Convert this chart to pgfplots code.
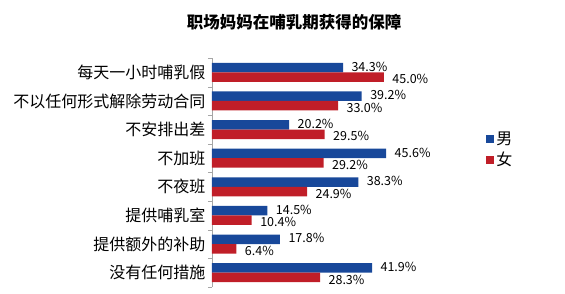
\documentclass[border=0pt]{standalone}
\usepackage{fontspec}
\setmainfont{Noto Sans CJK SC}
\usepackage{pgfplots}
\pgfplotsset{compat=1.18}
\definecolor{cblue}{RGB}{24,72,154}
\definecolor{cred}{RGB}{192,30,40}
\begin{document}
\begin{tikzpicture}[x=1pt,y=1pt]
\useasboundingbox (0,0) rectangle (565,294);
\node[font=\fontsize{16.5}{18}\selectfont\bfseries] at (294,272) {职场妈妈在哺乳期获得的保障};
\begin{axis}[at={(212pt,7pt)}, anchor=south west, scale only axis,
  width=191pt, height=229pt,
  xmin=0, xmax=50, ymin=-0.5, ymax=7.5, y dir=reverse,
  xbar, bar width=9.5pt, clip=false,
  axis x line=none, axis y line*=left,
  y axis line style={draw=gray!70, -},
  ytick={0,...,7},
  yticklabels={每天一小时哺乳假,不以任何形式解除劳动合同,不安排出差,不加班,不夜班,提供哺乳室,提供额外的补助,没有任何措施},
  major tick length=0pt,
  minor ytick={-0.5,0.5,...,7.5}, minor tick length=4pt, tick align=outside,
  minor tick style={draw=gray!70},
  yticklabel style={font=\fontsize{16}{17}\selectfont, xshift=-3pt},
  point meta=x,
  nodes near coords={\pgfmathprintnumber[fixed,fixed zerofill,precision=1,assume math mode=true]{\pgfplotspointmeta}\%},
  nodes near coords style={font=\fontsize{12.5}{13}\selectfont, anchor=west, xshift=5pt, text=black, inner ysep=1pt},
  legend style={at={(1.42,0.6)}, anchor=west, draw=none, fill=none, font=\fontsize{16}{17}\selectfont, row sep=2pt},
  legend image code/.code={\fill[#1] (0pt,-4pt) rectangle (8pt,4pt);},
]
\addplot[fill=cblue, draw=none, bar shift=4.75pt, nodes near coords style={yshift=1pt}] coordinates {(34.3,0) (39.2,1) (20.2,2) (45.6,3) (38.3,4) (14.5,5) (17.8,6) (41.9,7)};
\addplot[fill=cred, draw=none, bar shift=-4.75pt, nodes near coords style={yshift=-2pt}] coordinates {(45.0,0) (33.0,1) (29.5,2) (29.2,3) (24.9,4) (10.4,5) (6.4,6) (28.3,7)};
\legend{男,女}
\end{axis}
\end{tikzpicture}
\end{document}
